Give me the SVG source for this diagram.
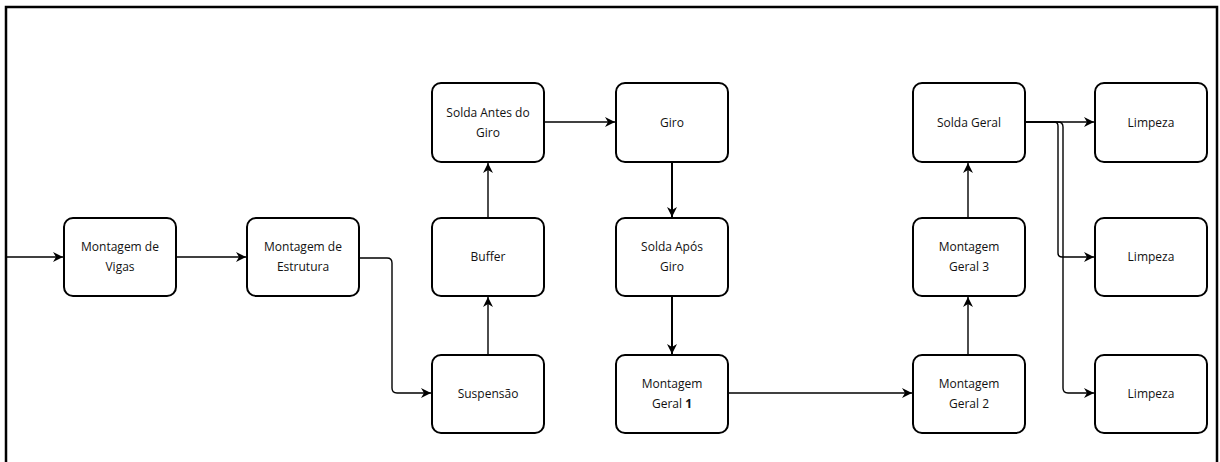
<svg xmlns="http://www.w3.org/2000/svg" width="1220" height="462" viewBox="0 0 1220 462">
  <style>
    .frame { fill: none; stroke: #000; stroke-width: 2.5; }
    .node rect { fill: #fff; stroke: #000; stroke-width: 2; }
    .node text { font-family: "Open Sans", "DejaVu Sans", sans-serif; font-size: 12px; fill: #111; text-anchor: middle; }
    .edge { fill: none; stroke: #000; stroke-width: 1.4; stroke-linejoin: round; }
    .edge.thick { stroke-width: 2; }
  </style>
  <defs>
    <marker id="arrow" viewBox="0 0 10 10" refX="10" refY="5" markerWidth="10" markerHeight="10" markerUnits="userSpaceOnUse" orient="auto">
      <path d="M0,0 L10,5 L0,10 L3,5 Z" fill="#000"/>
    </marker>
  </defs>

  <rect width="1220" height="462" fill="#fff"/>

  <!-- outer frame, open at the bottom of the view -->
  <rect class="frame" x="6" y="7" width="1211" height="480"/>

  <!-- process steps -->
  <g id="montagem-vigas" class="node">
    <rect x="64" y="218" width="112" height="78" rx="9"/>
    <text x="120" y="251">Montagem de</text>
    <text x="120" y="271">Vigas</text>
  </g>
  <g id="montagem-estrutura" class="node">
    <rect x="247" y="218" width="112" height="78" rx="9"/>
    <text x="303" y="251">Montagem de</text>
    <text x="303" y="271">Estrutura</text>
  </g>
  <g id="solda-antes-giro" class="node">
    <rect x="432" y="83" width="112" height="79" rx="9"/>
    <text x="488" y="117">Solda Antes do</text>
    <text x="488" y="137">Giro</text>
  </g>
  <g id="buffer" class="node">
    <rect x="432" y="218" width="112" height="78" rx="9"/>
    <text x="488" y="261">Buffer</text>
  </g>
  <g id="suspensao" class="node">
    <rect x="432" y="355" width="112" height="78" rx="9"/>
    <text x="488" y="398">Suspensão</text>
  </g>
  <g id="giro" class="node">
    <rect x="616" y="83" width="112" height="79" rx="9"/>
    <text x="672" y="127">Giro</text>
  </g>
  <g id="solda-apos-giro" class="node">
    <rect x="616" y="218" width="112" height="78" rx="9"/>
    <text x="672" y="251">Solda Após</text>
    <text x="672" y="271">Giro</text>
  </g>
  <g id="montagem-geral-1" class="node">
    <rect x="616" y="355" width="112" height="78" rx="9"/>
    <text x="672" y="388">Montagem</text>
    <text x="672" y="408">Geral <tspan font-weight="bold">1</tspan></text>
  </g>
  <g id="montagem-geral-2" class="node">
    <rect x="913" y="355" width="112" height="78" rx="9"/>
    <text x="969" y="388">Montagem</text>
    <text x="969" y="408">Geral 2</text>
  </g>
  <g id="montagem-geral-3" class="node">
    <rect x="913" y="218" width="112" height="78" rx="9"/>
    <text x="969" y="251">Montagem</text>
    <text x="969" y="271">Geral 3</text>
  </g>
  <g id="solda-geral" class="node">
    <rect x="913" y="83" width="112" height="79" rx="9"/>
    <text x="969" y="127">Solda Geral</text>
  </g>
  <g id="limpeza-1" class="node">
    <rect x="1095" y="83" width="112" height="79" rx="9"/>
    <text x="1151" y="127">Limpeza</text>
  </g>
  <g id="limpeza-2" class="node">
    <rect x="1095" y="218" width="112" height="78" rx="9"/>
    <text x="1151" y="261">Limpeza</text>
  </g>
  <g id="limpeza-3" class="node">
    <rect x="1095" y="355" width="112" height="78" rx="9"/>
    <text x="1151" y="398">Limpeza</text>
  </g>

  <!-- connectors -->
  <g id="connectors">
    <path class="edge" d="M7,257 H63" marker-end="url(#arrow)"/>
    <path class="edge" d="M177,257 H246" marker-end="url(#arrow)"/>
    <path class="edge" d="M360,258 H387 Q392,258 392,263 V388 Q392,393 397,393 H431" marker-end="url(#arrow)"/>
    <path class="edge" d="M488,354 V297" marker-end="url(#arrow)"/>
    <path class="edge" d="M488,217 V163" marker-end="url(#arrow)"/>
    <path class="edge" d="M545,122 H615" marker-end="url(#arrow)"/>
    <path class="edge thick" d="M672,163 V217" marker-end="url(#arrow)"/>
    <path class="edge thick" d="M672,297 V354" marker-end="url(#arrow)"/>
    <path class="edge" d="M729,393 H912" marker-end="url(#arrow)"/>
    <path class="edge" d="M968,354 V297" marker-end="url(#arrow)"/>
    <path class="edge" d="M968,217 V163" marker-end="url(#arrow)"/>
    <path class="edge" d="M1026,122 H1094" marker-end="url(#arrow)"/>
    <path class="edge" d="M1026,122 H1054 Q1058,122 1058,126 V253 Q1058,257 1062,257 H1094" marker-end="url(#arrow)"/>
    <path class="edge" d="M1026,122 H1058 Q1063,122 1063,127 V388 Q1063,393 1068,393 H1094" marker-end="url(#arrow)"/>
  </g>
</svg>
